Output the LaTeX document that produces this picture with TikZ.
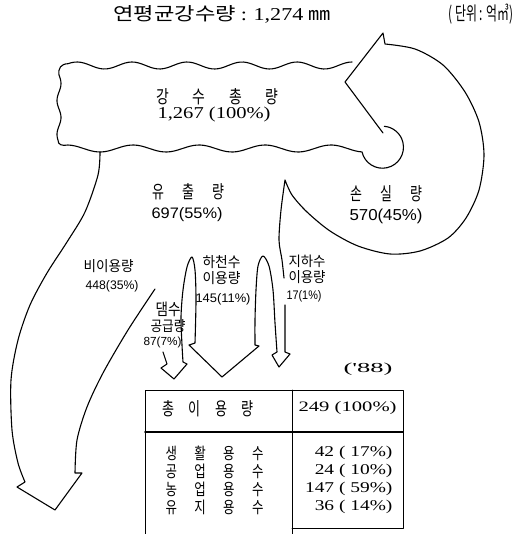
\documentclass[tikz,border=0pt]{standalone}
\usepackage{fontspec}
\usepackage{graphicx}
\setmainfont{Liberation Serif}
\newfontfamily\kr{Noto Sans CJK KR}
\newfontfamily\ser{Liberation Serif}
\newfontfamily\san{Liberation Sans}
\newcommand\fitbox[3]{\resizebox{#1bp}{#2bp}{#3}}
\newcommand\gap[1]{\hspace{#1em}}
\begin{document}
\begin{tikzpicture}[x=1bp,y=-1bp,line width=1.1bp,line join=round,line cap=round,
  lbl/.style={inner sep=0pt,anchor=west},
  val/.style={inner sep=0pt,anchor=east},
  rule/.style={line width=0.9bp}]
\useasboundingbox (0,0) rectangle (514,534);

% ---------- texts ----------
\node[lbl] (title) at (113,14.5) {\fitbox{217}{15}{\kr 연평균강수량 {\ser :} {\ser 1,274} ㎜}};
\node[lbl] (unit) at (448,14.5) {\fitbox{65}{16.5}{\kr ( 단위 : 억㎥)}};
\node[lbl] (total) at (156,96.5) {\fitbox{122}{15}{\kr 강\gap{1.7}수\gap{1.7}총\gap{1.7}량}};
\node[lbl] (totalv) at (157,115) {\fitbox{113}{11.5}{\ser 1,267 (100\%)}};
\node[lbl] (runoff) at (152,192) {\fitbox{72}{15}{\kr 유\gap{1.4}출\gap{1.4}량}};
\node[lbl] (runoffv) at (151,214.5) {\fitbox{71}{11}{\san 697(55\%)}};
\node[lbl] (loss) at (350,193.5) {\fitbox{72}{15}{\kr 손\gap{1.4}실\gap{1.4}량}};
\node[lbl] (lossv) at (349,216.5) {\fitbox{73}{11.5}{\san 570(45\%)}};
\node[lbl] (nonuse) at (83,266.5) {\fitbox{50}{12}{\kr 비이용량}};
\node[lbl] (nonusev) at (85,286.5) {\fitbox{53}{9}{\san 448(35\%)}};
\node[lbl] (riv1) at (202,262.5) {\fitbox{38}{12}{\kr 하천수}};
\node[lbl] (riv2) at (202,278) {\fitbox{38}{12}{\kr 이용량}};
\node[lbl] (rivv) at (195,299.5) {\fitbox{55}{9}{\san 145(11\%)}};
\node[lbl] (gw1) at (288,261) {\fitbox{37}{11.5}{\kr 지하수}};
\node[lbl] (gw2) at (288,277.5) {\fitbox{37}{12}{\kr 이용량}};
\node[lbl] (gwv) at (286,296.5) {\fitbox{35}{9}{\san 17(1\%)}};
\node[lbl] (dam1) at (155,309) {\fitbox{25}{13.5}{\kr 댐수}};
\node[lbl] (dam2) at (150,326.5) {\fitbox{35}{12}{\kr 공급량}};
\node[lbl] (damv) at (143,342.5) {\fitbox{38}{8.5}{\san 87(7\%)}};
\node[lbl] (yr) at (343,369) {\fitbox{49}{9.5}{\ser ('88)}};

% table texts
\node[lbl] (hdr) at (162,408.5) {\fitbox{91}{15}{\kr 총\gap{1.1}이\gap{1.1}용\gap{1.1}량}};
\node[lbl] (hdrv) at (298,408.5) {\fitbox{98}{10}{\ser 249 (100\%)}};
\node[lbl] (r1) at (165,453) {\fitbox{98}{13.5}{\kr 생\gap{1.4}활\gap{1.4}용\gap{1.4}수}};
\node[lbl] (r2) at (165,471) {\fitbox{98}{13.5}{\kr 공\gap{1.4}업\gap{1.4}용\gap{1.4}수}};
\node[lbl] (r3) at (165,489) {\fitbox{98}{13.5}{\kr 농\gap{1.4}업\gap{1.4}용\gap{1.4}수}};
\node[lbl] (r4) at (165,507) {\fitbox{98}{13.5}{\kr 유\gap{1.4}지\gap{1.4}용\gap{1.4}수}};
\node[val] (v1) at (393,453) {\scalebox{1.3}[1]{\ser\fontsize{15}{15}\selectfont 42 ( 17\%)}};
\node[val] (v2) at (393,471) {\scalebox{1.3}[1]{\ser\fontsize{15}{15}\selectfont 24 ( 10\%)}};
\node[val] (v3) at (393,489) {\scalebox{1.3}[1]{\ser\fontsize{15}{15}\selectfont 147 ( 59\%)}};
\node[val] (v4) at (393,507) {\scalebox{1.3}[1]{\ser\fontsize{15}{15}\selectfont 36 ( 14\%)}};

% ---------- cloud ----------
\draw plot[domain=352:68,samples=90] (\x,{65.5-3.5*cos((\x-352)*6.5455)})
  .. controls (61,64) and (58,68) .. (59,75)
  -- plot[domain=75:140,samples=40] ({59+2*sin((\x-75)*10.588)},\x)
  .. controls (58,145) and (62,146) .. (68,145)
  -- plot[domain=68:362,samples=90] (\x,{148.5+3.5*cos((\x-100)*5.4545)})
  arc[start angle=167,end angle=-85,radius=21];

% ---------- loss arrow ----------
\draw (383,133) -- (345,82) -- (383,33) -- (385,44)
  -- plot[smooth] coordinates {(385,44) (415,49) (443,65) (465,92) (479,122) (484,155)
     (479,190) (466,218) (448,238) (420,251) (390,254) (358,246) (330,231) (307,212)
     (292,195) (285,180)}
  -- plot[smooth] coordinates {(285,180) (281,210) (279,240) (282,260) (284,278)};

% ---------- groundwater / river / dam arrows ----------
\draw (285,305) -- (285,352) -- (290,354) -- (279,367) -- (272,355) -- (277,352)
  -- plot[smooth] coordinates {(277,352) (275,323) (273,290) (269,266) (263,256)
     (258,266) (256,290) (255,320) (255,345)}
  -- (259,346) -- (222,377) -- (189,345) -- (195,343)
  -- plot[smooth] coordinates {(195,343) (196,300) (195,270) (192,257) (187,267)
     (183,290) (181,317) (182,345) (183,362)}
  -- (187,364) -- (174,379) -- (161,368) -- (167,364) -- (163,352);

% ---------- non-use arrow ----------
\draw plot[smooth] coordinates {(100,152) (98,175) (85,212) (67,242) (47,273) (30,305)
     (18,340) (11,380) (12,430) (18,463) (25,482)}
  -- (17,487) -- (55,510) -- (82,473) -- (75,473)
  -- plot[smooth] coordinates {(75,473) (77,440) (87,407) (103,373) (128,330) (155,289)};

% ---------- table ----------
\draw[rule] (145,534) -- (145,390) -- (403,390) -- (403,528) -- (292,528);
\draw[rule] (292,390) -- (292,534);
\draw[line width=1.6bp] (145,432) -- (403,432);
\end{tikzpicture}
\end{document}
